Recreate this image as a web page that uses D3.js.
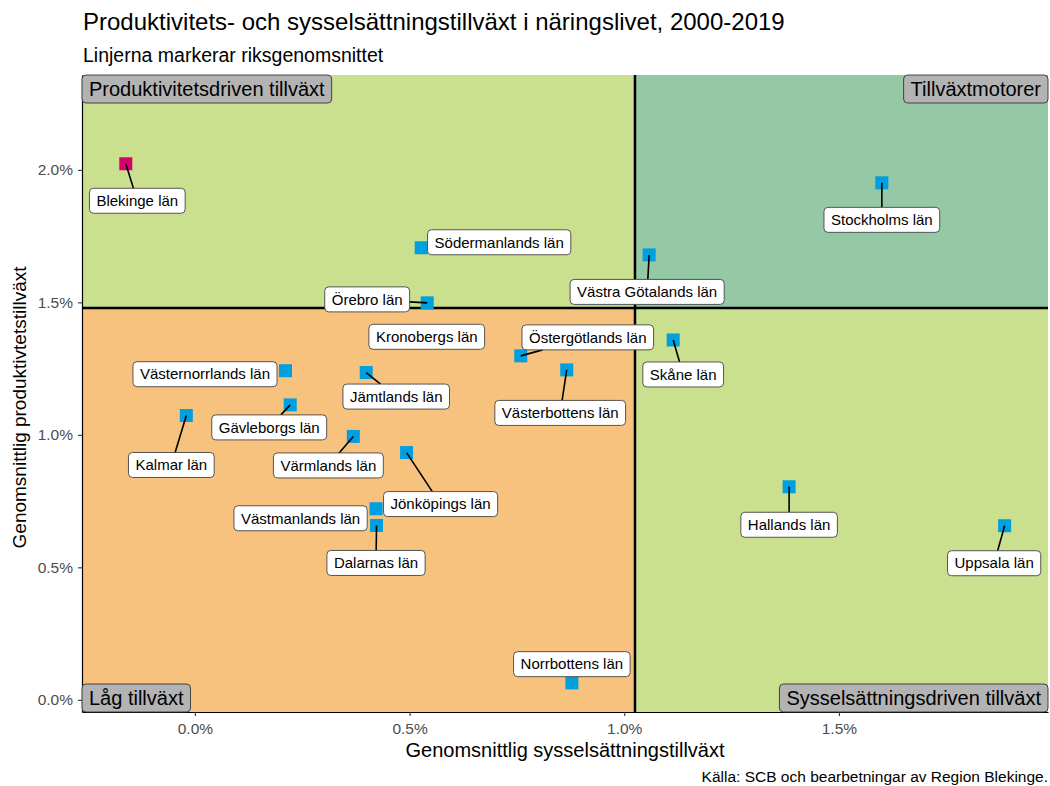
<!DOCTYPE html>
<html>
<head>
<meta charset="utf-8">
<script src="https://cdn.jsdelivr.net/npm/d3@7"></script>
<style>
  body { margin: 0; background: #fff; }
  svg { font-family: "Liberation Sans", Arial, sans-serif; }
</style>
</head>
<body>
<svg></svg>
<script>
const width = 1050;
const height = 786;
const margin = { top: 75, right: 2, bottom: 74, left: 82 };

// län (county) data: employment growth (x) and productivity growth (y), % per year
const regions = ['Blekinge län', 'Stockholms län', 'Södermanlands län', 'Västra Götalands län', 'Örebro län',
    'Kronobergs län', 'Östergötlands län', 'Västerbottens län', 'Jämtlands län', 'Skåne län',
    'Västernorrlands län', 'Gävleborgs län', 'Kalmar län', 'Värmlands län', 'Jönköpings län',
    'Västmanlands län', 'Dalarnas län', 'Hallands län', 'Uppsala län', 'Norrbottens län'];
const employment = [-0.161, 1.600, 0.527, 1.058, 0.541,
    0.540, 0.759, 0.866, 0.399, 1.114,
    0.211, 0.222, -0.020, 0.369, 0.493,
    0.422, 0.423, 1.384, 1.886, 0.878];
const productivity = [2.023, 1.951, 1.706, 1.679, 1.498,
    1.370, 1.298, 1.245, 1.235, 1.358,
    1.242, 1.113, 1.073, 0.994, 0.933,
    0.721, 0.658, 0.804, 0.657, 0.064];

// national averages (the two lines)
const avgEmployment = 1.025;
const avgProductivity = 1.479;

const xTicks = [0, 0.5, 1, 1.5];
const yTicks = [0, 0.5, 1, 1.5, 2];

const quadrantNames = ['Produktivitetsdriven tillväxt', 'Tillväxtmotorer', 'Låg tillväxt', 'Sysselsättningsdriven tillväxt'];

// repelled label placement, pixel offset of label centre from its point
const labelShift = {
    'Blekinge län': [11.5, 37], 'Stockholms län': [0, 37], 'Södermanlands län': [78, -5.5],
    'Västra Götalands län': [-2, 37], 'Örebro län': [-60, -3.5], 'Kronobergs län': [0, 0],
    'Östergötlands län': [67, -18.5], 'Västerbottens län': [-6.5, 43], 'Jämtlands län': [30, 24],
    'Skåne län': [10, 34.5], 'Västernorrlands län': [-80.5, 3.5], 'Gävleborgs län': [-21, 22.5],
    'Kalmar län': [-15, 49.5], 'Värmlands län': [-25, 29], 'Jönköpings län': [34, 51.5],
    'Västmanlands län': [-75.5, 9.5], 'Dalarnas län': [-0.5, 37.5], 'Hallands län': [0, 38],
    'Uppsala län': [-10.5, 37.5], 'Norrbottens län': [0, -18.7]
};

const data = regions.map((r, i) => ({ name: r, x: employment[i], y: productivity[i] }));

const svg = d3.select('svg')
    .attr('width', width)
    .attr('height', height);

const x = d3.scaleLinear()
    .domain([-0.263, 1.987])
    .range([margin.left, width - margin.right]);

const y = d3.scaleLinear()
    .domain([-0.046, 2.358])
    .range([height - margin.bottom, margin.top]);

const x0 = x.range()[0], x1 = x.range()[1];
const y0 = y.range()[1], y1 = y.range()[0];

// quadrant backgrounds
const quads = [
    { x0: x0, x1: x(avgEmployment), y0: y0, y1: y(avgProductivity), fill: '#cae08f' },
    { x0: x(avgEmployment), x1: x1, y0: y0, y1: y(avgProductivity), fill: '#95c8a5' },
    { x0: x0, x1: x(avgEmployment), y0: y(avgProductivity), y1: y1, fill: '#f7c27e' },
    { x0: x(avgEmployment), x1: x1, y0: y(avgProductivity), y1: y1, fill: '#cae08f' }
];
svg.append('g').selectAll('rect')
    .data(quads)
    .enter()
    .append('rect')
    .attr('x', d => d.x0)
    .attr('y', d => d.y0)
    .attr('width', d => d.x1 - d.x0)
    .attr('height', d => d.y1 - d.y0)
    .attr('fill', d => d.fill);

// average lines
svg.append('line')
    .attr('x1', x(avgEmployment)).attr('x2', x(avgEmployment))
    .attr('y1', y0).attr('y2', y1)
    .attr('stroke', '#000').attr('stroke-width', 2.5);
svg.append('line')
    .attr('x1', x0).attr('x2', x1)
    .attr('y1', y(avgProductivity)).attr('y2', y(avgProductivity))
    .attr('stroke', '#000').attr('stroke-width', 2.5);

// axes
const pct = d => d3.format('.1f')(d) + '%';
const xAxis = d3.axisBottom(x).tickValues(xTicks).tickFormat(pct).tickSize(4).tickSizeOuter(0);
const yAxis = d3.axisLeft(y).tickValues(yTicks).tickFormat(pct).tickSize(4).tickSizeOuter(0);

const gx = svg.append('g')
    .attr('transform', 'translate(0,' + y1 + ')')
    .call(xAxis);
const gy = svg.append('g')
    .attr('transform', 'translate(' + x0 + ',0)')
    .call(yAxis);
[gx, gy].forEach(g => {
    g.select('.domain').attr('stroke', '#000').attr('stroke-width', 1.2);
    g.selectAll('.tick line').attr('stroke', '#333').attr('stroke-width', 1.1);
    g.selectAll('.tick text').attr('fill', '#4d4d4d').style('font-size', '15.5px');
});
gx.selectAll('.tick text').attr('dy', '0.95em');
gy.selectAll('.tick text').attr('x', -9);

// points
svg.append('g').selectAll('rect')
    .data(data)
    .enter()
    .append('rect')
    .attr('x', d => x(d.x) - 6.5)
    .attr('y', d => y(d.y) - 6.5)
    .attr('width', 13)
    .attr('height', 13)
    .attr('fill', d => d.name === 'Blekinge län' ? '#d6006f' : '#009fdf');

// labels (boxes sized from text)
const segLayer = svg.append('g');
const labLayer = svg.append('g');
data.forEach(d => {
    const px = x(d.x), py = y(d.y);
    const s = labelShift[d.name];
    const cx = px + s[0], cy = py + s[1];
    const g = labLayer.append('g');
    const t = g.append('text')
        .attr('x', cx).attr('y', cy)
        .attr('dy', '0.35em')
        .attr('text-anchor', 'middle')
        .style('font-size', '15px')
        .attr('fill', '#000')
        .text(d.name);
    const w = t.node().getComputedTextLength() + 14;
    const h = 25;
    g.insert('rect', 'text')
        .attr('x', cx - w / 2).attr('y', cy - h / 2)
        .attr('width', w).attr('height', h)
        .attr('rx', 4)
        .attr('fill', '#fff')
        .attr('stroke', '#444').attr('stroke-width', 0.9);

    // segment from point to box edge, toward label centre
    const dx = cx - px, dy = cy - py;
    let tEdge = 1;
    if (Math.abs(dx) > 0 || Math.abs(dy) > 0) {
        const tx = dx !== 0 ? (Math.abs(dx) - w / 2) / Math.abs(dx) : -Infinity;
        const ty = dy !== 0 ? (Math.abs(dy) - h / 2) / Math.abs(dy) : -Infinity;
        tEdge = Math.max(tx, ty);
    }
    const len = Math.hypot(dx, dy) * tEdge;
    if (tEdge > 0 && len > 10) {
        segLayer.append('line')
            .attr('x1', px).attr('y1', py)
            .attr('x2', px + dx * tEdge).attr('y2', py + dy * tEdge)
            .attr('stroke', '#000').attr('stroke-width', 1.6);
    }
});

// quadrant name boxes
const qPos = [
    { x: x0, y: y0, ax: 'start', top: true },
    { x: x1, y: y0, ax: 'end', top: true },
    { x: x0, y: y1, ax: 'start', top: false },
    { x: x1, y: y1, ax: 'end', top: false }
];
quadrantNames.forEach((name, i) => {
    const p = qPos[i];
    const g = svg.append('g');
    const h = 28;
    const t = g.append('text')
        .attr('y', p.top ? p.y + h / 2 : p.y - h / 2)
        .attr('dy', '0.36em')
        .style('font-size', '20px')
        .attr('fill', '#000')
        .text(name);
    const w = t.node().getComputedTextLength() + 14;
    const bx = p.ax === 'start' ? p.x : p.x - w;
    t.attr('x', bx + 7);
    g.insert('rect', 'text')
        .attr('x', bx).attr('y', p.top ? p.y : p.y - h)
        .attr('width', w).attr('height', h)
        .attr('rx', 4)
        .attr('fill', '#b3b3b3')
        .attr('stroke', '#333').attr('stroke-width', 0.9);
});

// titles
svg.append('text')
    .attr('x', 83).attr('y', 30)
    .style('font-size', '24px')
    .attr('fill', '#000')
    .text('Produktivitets- och sysselsättningstillväxt i näringslivet, 2000-2019');
svg.append('text')
    .attr('x', 83).attr('y', 62)
    .style('font-size', '19.5px')
    .attr('fill', '#000')
    .text('Linjerna markerar riksgenomsnittet');

svg.append('text')
    .attr('x', (x0 + x1) / 2).attr('y', 757)
    .attr('text-anchor', 'middle')
    .style('font-size', '20px')
    .attr('fill', '#000')
    .text('Genomsnittlig sysselsättningstillväxt');
svg.append('text')
    .attr('transform', 'translate(26,' + ((y0 + y1) / 2 + 14) + ') rotate(-90)')
    .attr('text-anchor', 'middle')
    .style('font-size', '19px')
    .attr('fill', '#000')
    .text('Genomsnittlig produktivtetstillväxt');

svg.append('text')
    .attr('x', 1048).attr('y', 782)
    .attr('text-anchor', 'end')
    .style('font-size', '15.5px')
    .attr('fill', '#000')
    .text('Källa: SCB och bearbetningar av Region Blekinge.');
</script>
</body>
</html>
